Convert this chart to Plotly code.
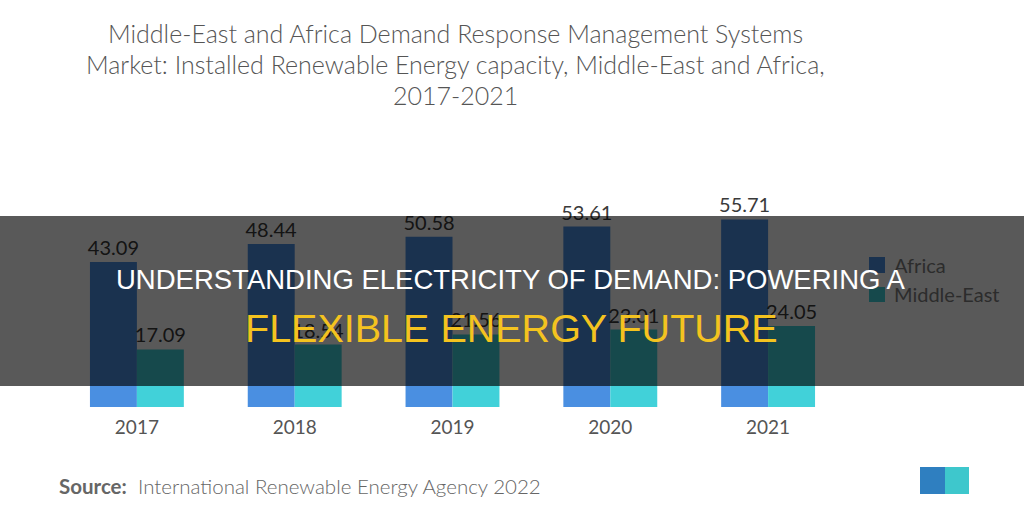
import plotly.graph_objects as go

# ---- data ----
years = ["2017", "2018", "2019", "2020", "2021"]
africa = [43.09, 48.44, 50.58, 53.61, 55.71]
middle_east = [17.09, 18.54, 21.56, 23.01, 24.05]
series_names = ["Africa", "Middle-East"]
title_lines = [
    "Middle-East and Africa Demand Response Management Systems",
    "Market: Installed Renewable Energy capacity, Middle-East and Africa,",
    "2017-2021",
]
source_label = "Source:"
source_text = "International Renewable Energy Agency 2022"
overlay_line1 = "UNDERSTANDING ELECTRICITY OF DEMAND: POWERING A"
overlay_line2 = "FLEXIBLE ENERGY FUTURE"

# ---- style ----
W, H = 1024, 515
ML, MR, MT, MB = 58, 177, 205, 108
PW, PH = W - ML - MR, H - MT - MB
C_AF = "#4a8fe1"
C_ME = "#41d1d9"
FONT = "Lato, 'Open Sans', sans-serif"
TITLE_Y = [33, 64, 95]


def px(xp):
    return (xp - ML) / PW


def py(yp):
    return (H - MB - yp) / PH


fig = go.Figure()
for name, vals, col in [(series_names[0], africa, C_AF), (series_names[1], middle_east, C_ME)]:
    fig.add_trace(go.Bar(
        x=years, y=vals, name=name, marker=dict(color=col, line=dict(width=0)),
        texttemplate="%{y:.2f}", textposition="outside", constraintext="none",
        textfont=dict(family=FONT, size=20, color="#3a3a3a"),
        cliponaxis=False, showlegend=False,
    ))

shapes = []
# legend swatches (drawn under the overlay band)
sw = [(257, 273, C_AF), (287, 302, C_ME)]
for y0, y1, col in sw:
    shapes.append(dict(type="rect", xref="paper", yref="paper",
                       x0=px(869), x1=px(885), y0=py(y1), y1=py(y0),
                       fillcolor=col, line=dict(width=0), layer="above"))
# dark overlay band
shapes.append(dict(type="rect", xref="paper", yref="paper",
                   x0=px(0), x1=px(W), y0=py(386), y1=py(216),
                   fillcolor="rgba(0,0,0,0.65)", line=dict(width=0), layer="above"))
# logo blocks
shapes.append(dict(type="rect", xref="paper", yref="paper",
                   x0=px(920), x1=px(945), y0=py(494), y1=py(467),
                   fillcolor="#2f7fc0", line=dict(width=0), layer="above"))
shapes.append(dict(type="rect", xref="paper", yref="paper",
                   x0=px(945), x1=px(969), y0=py(494), y1=py(467),
                   fillcolor="#3ec7cc", line=dict(width=0), layer="above"))

annotations = []
for line, yy in zip(title_lines, TITLE_Y):
    annotations.append(dict(text=line, xref="paper", yref="paper",
                            x=px(456), y=py(yy), xanchor="center", yanchor="middle",
                            showarrow=False,
                            font=dict(family=FONT, size=25, color="#555555", weight=300)))
annotations += [
    dict(text=f"<b>{source_label}</b>  {source_text}", xref="paper", yref="paper",
         x=px(57), y=py(486), xanchor="left", yanchor="middle", showarrow=False,
         font=dict(family=FONT, size=20.5, color="#666666", weight=300)),
    dict(text=series_names[0], xref="paper", yref="paper", x=px(892), y=py(265),
         xanchor="left", yanchor="middle", showarrow=False,
         font=dict(family=FONT, size=20, color="#2c2c2c")),
    dict(text=series_names[1], xref="paper", yref="paper", x=px(892), y=py(294),
         xanchor="left", yanchor="middle", showarrow=False,
         font=dict(family=FONT, size=20, color="#2c2c2c")),
    dict(text=overlay_line1, xref="paper", yref="paper", x=px(511), y=py(279),
         xanchor="center", yanchor="middle", showarrow=False,
         font=dict(family="'Liberation Sans', Arial, sans-serif", size=27.5, color="#ffffff")),
    dict(text=overlay_line2, xref="paper", yref="paper", x=px(511), y=py(328),
         xanchor="center", yanchor="middle", showarrow=False,
         font=dict(family="'Liberation Sans', Arial, sans-serif", size=39.5, color="#f4c31f")),
]

fig.update_layout(
    width=W, height=H, margin=dict(l=ML, r=MR, t=MT, b=MB, pad=0),
    paper_bgcolor="white", plot_bgcolor="white",
    barmode="group", bargap=0.405, bargroupgap=0,
    shapes=shapes, annotations=annotations,
    xaxis=dict(type="category", showgrid=False, showline=False, zeroline=False,
               ticks="", ticklabelstandoff=7,
               tickfont=dict(family=FONT, size=19, color="#555555")),
    yaxis=dict(range=[0, 60], visible=False, showgrid=False),
    showlegend=False,
)

fig.write_html("out.html")
